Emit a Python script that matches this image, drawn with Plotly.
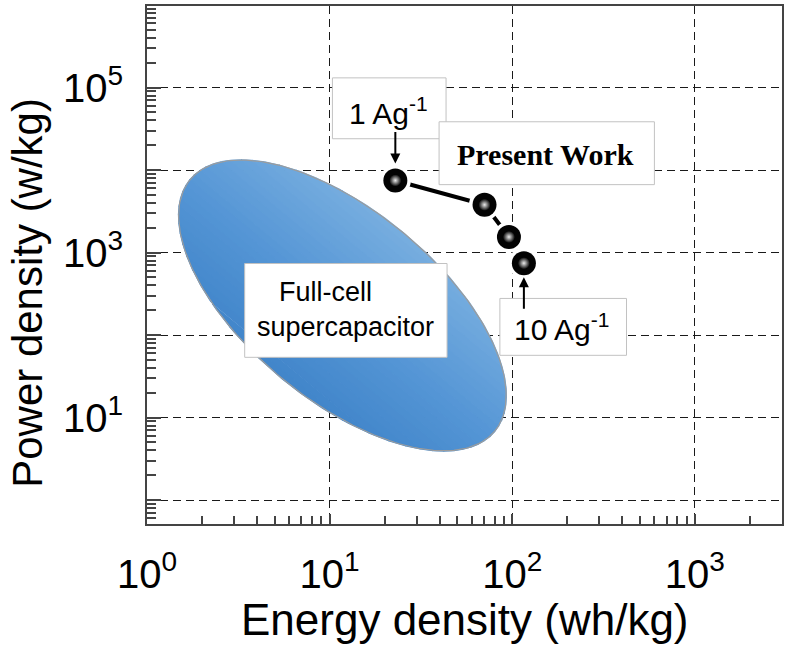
import numpy as np
import plotly.graph_objects as go
from plotly.colors import sample_colorscale

# ---------------- data ----------------
energy = [22.9, 70.5, 95.9, 115.8]      # Energy density (wh/kg)
power = [7500, 3800, 1550, 745]         # Power density (w/kg)

x_tick_vals = [1, 10, 100, 1000]
x_tick_text = ["10<sup>0</sup>", "10<sup>1</sup>", "10<sup>2</sup>", "10<sup>3</sup>"]
y_tick_vals = [1, 10, 100, 1000, 10000, 100000]
y_tick_text = ["", "10<sup>1</sup>", "", "10<sup>3</sup>", "", "10<sup>5</sup>"]

# Full-cell supercapacitor region: ellipse (centre in data units, axes in px)
region_center = (11.75, 229.0)
region_semi_major_px = 198
region_semi_minor_px = 95
region_angle_deg = 39.5

# ---------------- layout geometry ----------------
W, H = 788, 650
ML, MR, MT, MB = 147, 4, 5, 126
PW, PH = W - ML - MR, H - MT - MB
x_range = [0.0, 3.477]
y_range = [-0.29, 5.99]
px_per_dec_x = PW / (x_range[1] - x_range[0])
px_per_dec_y = PH / (y_range[1] - y_range[0])


def P(px, py):
    """pixel position -> paper coordinates"""
    return (px - ML) / PW, (H - MB - py) / PH


th = np.deg2rad(region_angle_deg)
A, B = region_semi_major_px, region_semi_minor_px


def to_data(u, v):
    dx = u * np.cos(th) - v * np.sin(th)
    dy = u * np.sin(th) + v * np.cos(th)
    xx = 10 ** (np.log10(region_center[0]) + dx / px_per_dec_x)
    yy = 10 ** (np.log10(region_center[1]) - dy / px_per_dec_y)
    return xx, yy


fig = go.Figure()

# ellipse filled in bands parallel to its major axis (diagonal shading)
n_bands = 28
edges = np.linspace(-B, B, n_bands + 1)
cols = sample_colorscale([[0, "#76addf"], [0.55, "#5495d5"], [1, "#4286ca"]],
                         list(np.linspace(0, 1, n_bands)))
for k in range(n_bands):
    v_up = np.linspace(edges[k], edges[k + 1], 12)
    u_r = A * np.sqrt(np.clip(1 - (v_up / B) ** 2, 0, None))
    v_dn = v_up[::-1]
    u_l = -A * np.sqrt(np.clip(1 - (v_dn / B) ** 2, 0, None))
    uu = np.concatenate([u_r, u_l])
    vv = np.concatenate([v_up, v_dn])
    bx, by = to_data(uu, vv)
    fig.add_trace(go.Scatter(x=bx, y=by, mode="lines", fill="toself",
                             fillcolor=cols[k], line=dict(color=cols[k], width=1.6),
                             hoverinfo="skip"))

t = np.linspace(0, 2 * np.pi, 240)
ex, ey = to_data(A * np.cos(t), B * np.sin(t))
fig.add_trace(go.Scatter(x=ex, y=ey, mode="lines",
                         line=dict(color="#9c9c9c", width=1.2), hoverinfo="skip"))

# present work series
fig.add_trace(go.Scatter(x=energy, y=power, mode="lines",
                         line=dict(color="black", width=4), hoverinfo="skip"))
fig.add_trace(go.Scatter(x=energy, y=power, mode="markers",
                         marker=dict(color="white", size=31, line=dict(width=0)),
                         hoverinfo="skip"))
fig.add_trace(go.Scatter(x=energy, y=power, mode="markers",
                         marker=dict(color="#030303", size=24, line=dict(width=0))))
fig.add_trace(go.Scatter(x=energy, y=power, mode="markers",
                         marker=dict(color="#030303", size=12, line=dict(width=0),
                                     gradient=dict(type="radial", color="#ececec")),
                         hoverinfo="skip"))

FONT = "Liberation Sans, Arial, sans-serif"
axis_common = dict(
    type="log", tickmode="array", ticks="inside",
    tickcolor="#444", tickwidth=1.5,
    showline=True, linecolor="#444", linewidth=2, mirror=True,
    showgrid=True, gridcolor="#1a1a1a", gridwidth=1.2, griddash="8px,5px",
    zeroline=False, tickfont=dict(family=FONT, size=40, color="black"),
)

x_minor = [m * 10 ** d for d in range(0, 4) for m in range(2, 10)]
y_minor = [m * 10 ** d for d in range(-1, 6) for m in range(2, 10)]

fig.update_xaxes(**axis_common, range=x_range, tickvals=x_tick_vals,
                 ticktext=x_tick_text, ticklen=10, ticklabelstandoff=14,
                 minor=dict(tickvals=x_minor, ticks="inside", ticklen=8,
                            tickcolor="#444", tickwidth=1.5, showgrid=False))
fig.update_yaxes(**axis_common, range=y_range, tickvals=y_tick_vals,
                 ticktext=y_tick_text, ticklen=14, ticklabelstandoff=14,
                 minor=dict(tickvals=y_minor, ticks="inside", ticklen=9,
                            tickcolor="#444", tickwidth=1.5, showgrid=False))

# ---------------- boxes ----------------
box_style = dict(type="rect", xref="paper", yref="paper", layer="above",
                 fillcolor="white", line=dict(color="#c2c2c2", width=1))
shapes = []
for (x0, y0, x1, y1) in [(333, 77, 447, 138), (440, 121, 656, 184),
                         (501, 298, 628, 355), (245, 263, 448, 357)]:
    a0, b1 = P(x0, y0)
    a1, b0 = P(x1, y1)
    shapes.append(dict(box_style, x0=a0, x1=a1, y0=b0, y1=b1))
fig.update_layout(shapes=shapes)

# ---------------- texts ----------------
def label(text, px, py, size, family=FONT):
    xx, yy = P(px, py)
    fig.add_annotation(text=text, x=xx, y=yy, xref="paper", yref="paper",
                       showarrow=False, xanchor="center", yanchor="middle",
                       font=dict(family=family, size=size, color="black"))

label("1 Ag<sup>-1</sup>", 389, 110, 30)
label("<b>Present Work</b>", 547, 154, 30, "Liberation Serif, Times New Roman, serif")
label("10 Ag<sup>-1</sup>", 563, 327, 30)
label("Full-cell", 326, 292, 27)
label("supercapacitor", 346, 327, 27)

# arrows
fig.add_annotation(x=np.log10(energy[0]), y=np.log10(power[0]), xref="x", yref="y",
                   text="", showarrow=True, ax=0, ay=-50, arrowhead=2,
                   arrowsize=1, arrowwidth=2, arrowcolor="black", standoff=17)
fig.add_annotation(x=np.log10(energy[-1]), y=np.log10(power[-1]), xref="x", yref="y",
                   text="", showarrow=True, ax=0, ay=47, arrowhead=2,
                   arrowsize=1, arrowwidth=2, arrowcolor="black", standoff=14)

# axis titles
xt, yt = P(ML + PW / 2, 620)
fig.add_annotation(text="Energy density (wh/kg)", x=xt, y=yt, xref="paper", yref="paper",
                   showarrow=False, xanchor="center", yanchor="middle",
                   font=dict(family=FONT, size=44, color="black"))
xt, yt = P(27, 292)
fig.add_annotation(text="Power density (w/kg)", x=xt, y=yt, xref="paper", yref="paper",
                   showarrow=False, xanchor="center", yanchor="middle", textangle=-90,
                   font=dict(family=FONT, size=42, color="black"))

fig.update_layout(
    width=W, height=H,
    margin=dict(l=ML, r=MR, t=MT, b=MB),
    plot_bgcolor="white", paper_bgcolor="white",
    showlegend=False,
)

fig.write_html("out.html")
